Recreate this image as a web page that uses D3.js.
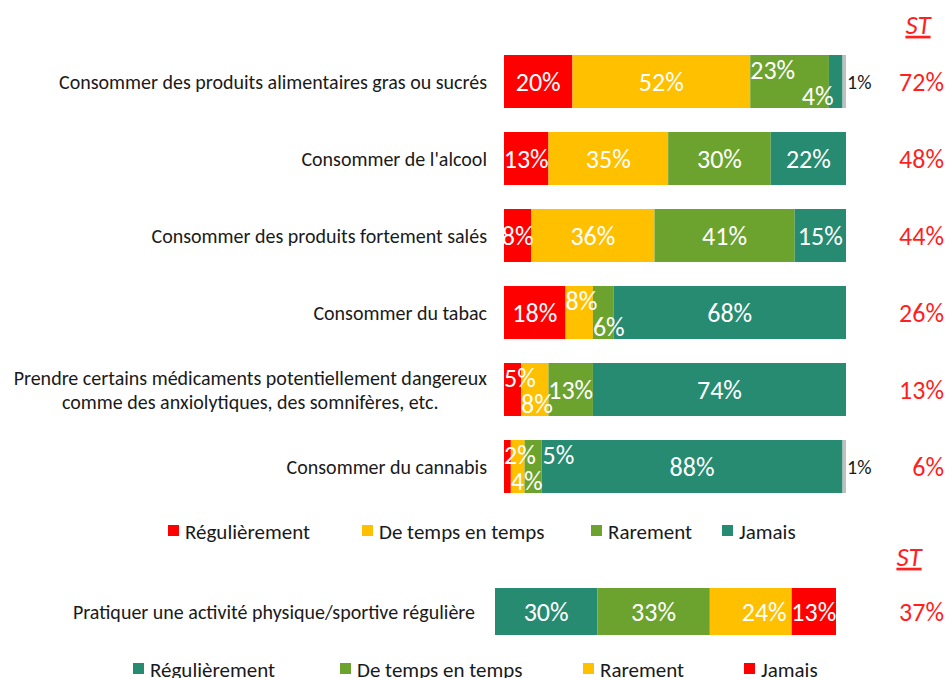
<!DOCTYPE html>
<html>
<head>
<meta charset="utf-8">
<script src="https://cdn.jsdelivr.net/npm/d3@7"></script>
<style>
  html, body { margin: 0; padding: 0; background: #fff; }
  #body { width: 949px; height: 678px; overflow: hidden; }
  svg text { font-family: Carlito, Lato, "Open Sans", sans-serif; }
</style>
</head>
<body>
<div id="body"><svg></svg></div>
<script>
// ---- data ----
var categories = [
  "Consommer des produits alimentaires gras ou sucrés",
  "Consommer de l'alcool",
  "Consommer des produits fortement salés",
  "Consommer du tabac",
  "Prendre certains médicaments potentiellement dangereux\ncomme des anxiolytiques, des somnifères, etc.",
  "Consommer du cannabis"
];
var seriesNames = ["Régulièrement", "De temps en temps", "Rarement", "Jamais", "NSP"];
var regulierement = [20, 13, 8, 18, 5, 2];
var tempsEnTemps = [52, 35, 36, 8, 8, 4];
var rarement = [23, 30, 41, 6, 13, 5];
var jamais = [4, 22, 15, 68, 74, 88];
var nsp = [1, 0, 0, 0, 0, 1];
var sousTotal = [72, 48, 44, 26, 13, 6];

// label placement codes: c = centre, u = up/left, d = down/left, de = down/end,
// ua = up/after the segment, o = outside
var labelPlace = [
  ["c", "c", "u", "de", "o"],
  ["c", "c", "c", "c", "o"],
  ["c", "c", "c", "c", "o"],
  ["c", "u", "d", "c", "o"],
  ["u", "d", "c", "c", "o"],
  ["u", "d", "ua", "c", "o"]
];

var sportCategory = "Pratiquer une activité physique/sportive régulière";
var sportSeries = ["Régulièrement", "De temps en temps", "Rarement", "Jamais"];
var sportValues = [30, 33, 24, 13];
var sportPlace = ["c", "c", "e", "c"];
var sportST = 37;

var colors = ["#FF0000", "#FFC000", "#6BA32E", "#278B72", "#BFBFBF"];
var sportColors = ["#278B72", "#6BA32E", "#FFC000", "#FF0000"];
var redText = "#FF1F1F";

var width = 949, height = 678;
var svg = d3.select("svg").attr("width", width).attr("height", height);

// ---- top chart ----
var x = d3.scaleLinear().domain([0, 100]).range([504, 846]);
var y = d3.scaleBand().domain(categories)
  .range([43, 43 + 6 * 77])
  .paddingInner(0.312).paddingOuter(0.156);

var rows = categories.map(function (c, i) {
  var vals = [regulierement[i], tempsEnTemps[i], rarement[i], jamais[i], nsp[i]];
  var acc = 0;
  return {
    cat: c, st: sousTotal[i],
    segs: vals.map(function (v, k) {
      var s = {v: v, x0: acc, x1: acc + v, k: k, place: labelPlace[i][k]};
      acc += v;
      return s;
    })
  };
});

var rowG = svg.append("g").selectAll("g")
  .data(rows).enter().append("g")
  .attr("transform", function (d) { return "translate(0," + y(d.cat) + ")"; });

rowG.selectAll("rect")
  .data(function (d) { return d.segs.filter(function (s) { return s.v > 0; }); })
  .enter().append("rect")
  .attr("x", function (s) { return x(s.x0); })
  .attr("width", function (s) { return x(s.x1) - x(s.x0); })
  .attr("y", 0)
  .attr("height", y.bandwidth())
  .attr("fill", function (s) { return colors[s.k]; });

var bh = y.bandwidth();
function placeLabels(sel, xs, bandH) {
  sel.attr("x", function (s) {
      if (s.place === "c") return (xs(s.x0) + xs(s.x1)) / 2;
      if (s.place === "de") return xs(s.x1) - 9;
      if (s.place === "e") return xs(s.x1) - 5;
      if (s.place === "o" || s.place === "ua") return xs(s.x1) + 1;
      return xs(s.x0);
    })
    .attr("y", function (s) {
      if (s.place === "u" || s.place === "ua") return bandH / 2 - 12;
      if (s.place === "d" || s.place === "de") return bandH / 2 + 14;
      return bandH / 2;
    })
    .attr("dy", "0.36em")
    .attr("text-anchor", function (s) {
      if (s.place === "c") return "middle";
      if (s.place === "de" || s.place === "e") return "end";
      return "start";
    });
}

rowG.selectAll("text.val")
  .data(function (d) { return d.segs.filter(function (s) { return s.v > 0; }); })
  .enter().append("text")
  .attr("class", "val")
  .attr("fill", function (s) { return s.place === "o" ? "#1a1a1a" : "#fff"; })
  .style("font-size", function (s) { return s.place === "o" ? "20px" : "26px"; })
  .text(function (s) { return s.v + "%"; })
  .call(placeLabels, x, bh);

// category labels (multi-line labels are centred within a right-aligned block)
rowG.each(function (d) {
  var g = d3.select(this);
  var lines = d.cat.split("\n");
  var t = g.append("text")
    .attr("fill", "#1a1a1a")
    .style("font-size", "20px");
  var spans = lines.map(function (l, j) {
    return t.append("tspan").text(l)
      .attr("y", bh / 2 + (j - (lines.length - 1) / 2) * 24)
      .attr("dy", "0.36em");
  });
  var w = d3.max(spans, function (s) { return s.node().getComputedTextLength(); });
  var right = 487;
  if (lines.length > 1) {
    spans.forEach(function (s) { s.attr("x", right - w / 2).attr("text-anchor", "middle"); });
  } else {
    spans[0].attr("x", right).attr("text-anchor", "end");
  }
});

// sub-totals
rowG.append("text")
  .attr("x", 944).attr("y", bh / 2).attr("dy", "0.36em")
  .attr("text-anchor", "end")
  .attr("fill", redText)
  .style("font-size", "26px")
  .text(function (d) { return d.st + "%"; });

function stHeader(cx, cy) {
  svg.append("text")
    .attr("x", cx).attr("y", cy).attr("dy", "0.36em")
    .attr("text-anchor", "middle")
    .attr("fill", redText)
    .style("font-size", "27px")
    .style("font-style", "italic")
    .style("text-decoration", "underline")
    .text("ST");
}
stHeader(918, 24);

function legend(names, cols, xs, ly) {
  var lg = svg.append("g").selectAll("g")
    .data(names).enter().append("g")
    .attr("transform", function (d, i) { return "translate(" + xs[i] + "," + ly + ")"; });
  lg.append("rect")
    .attr("x", 0).attr("y", -6).attr("width", 11).attr("height", 11)
    .attr("fill", function (d, i) { return cols[i]; });
  lg.append("text")
    .attr("x", 17).attr("y", 0).attr("dy", "0.36em")
    .attr("fill", "#1a1a1a")
    .style("font-size", "21px")
    .text(function (d) { return d; });
}
legend(seriesNames.slice(0, 4), colors, [168, 362, 591, 722], 531);

// ---- bottom chart ----
stHeader(909, 556);
var x2 = d3.scaleLinear().domain([0, 100]).range([495, 836]);
var y2 = d3.scaleBand().domain([sportCategory]).range([588, 635]);
var acc2 = 0;
var sportSegs = sportValues.map(function (v, k) {
  var s = {v: v, x0: acc2, x1: acc2 + v, k: k, place: sportPlace[k]};
  acc2 += v;
  return s;
});
var g2 = svg.append("g").attr("transform", "translate(0," + y2(sportCategory) + ")");
var bh2 = y2.bandwidth();
g2.selectAll("rect").data(sportSegs).enter().append("rect")
  .attr("x", function (s) { return x2(s.x0); })
  .attr("width", function (s) { return x2(s.x1) - x2(s.x0); })
  .attr("y", 0).attr("height", bh2)
  .attr("fill", function (s) { return sportColors[s.k]; });
g2.selectAll("text.val").data(sportSegs).enter().append("text")
  .attr("class", "val")
  .attr("fill", "#fff")
  .style("font-size", "26px")
  .text(function (s) { return s.v + "%"; })
  .call(placeLabels, x2, bh2);
g2.append("text")
  .attr("x", 475).attr("y", bh2 / 2).attr("dy", "0.36em")
  .attr("text-anchor", "end").attr("fill", "#1a1a1a")
  .style("font-size", "20px")
  .text(sportCategory);
g2.append("text")
  .attr("x", 944).attr("y", bh2 / 2).attr("dy", "0.36em")
  .attr("text-anchor", "end").attr("fill", redText)
  .style("font-size", "26px")
  .text(sportST + "%");

legend(sportSeries, sportColors, [133, 340, 583, 744], 669);
</script>
</body>
</html>
